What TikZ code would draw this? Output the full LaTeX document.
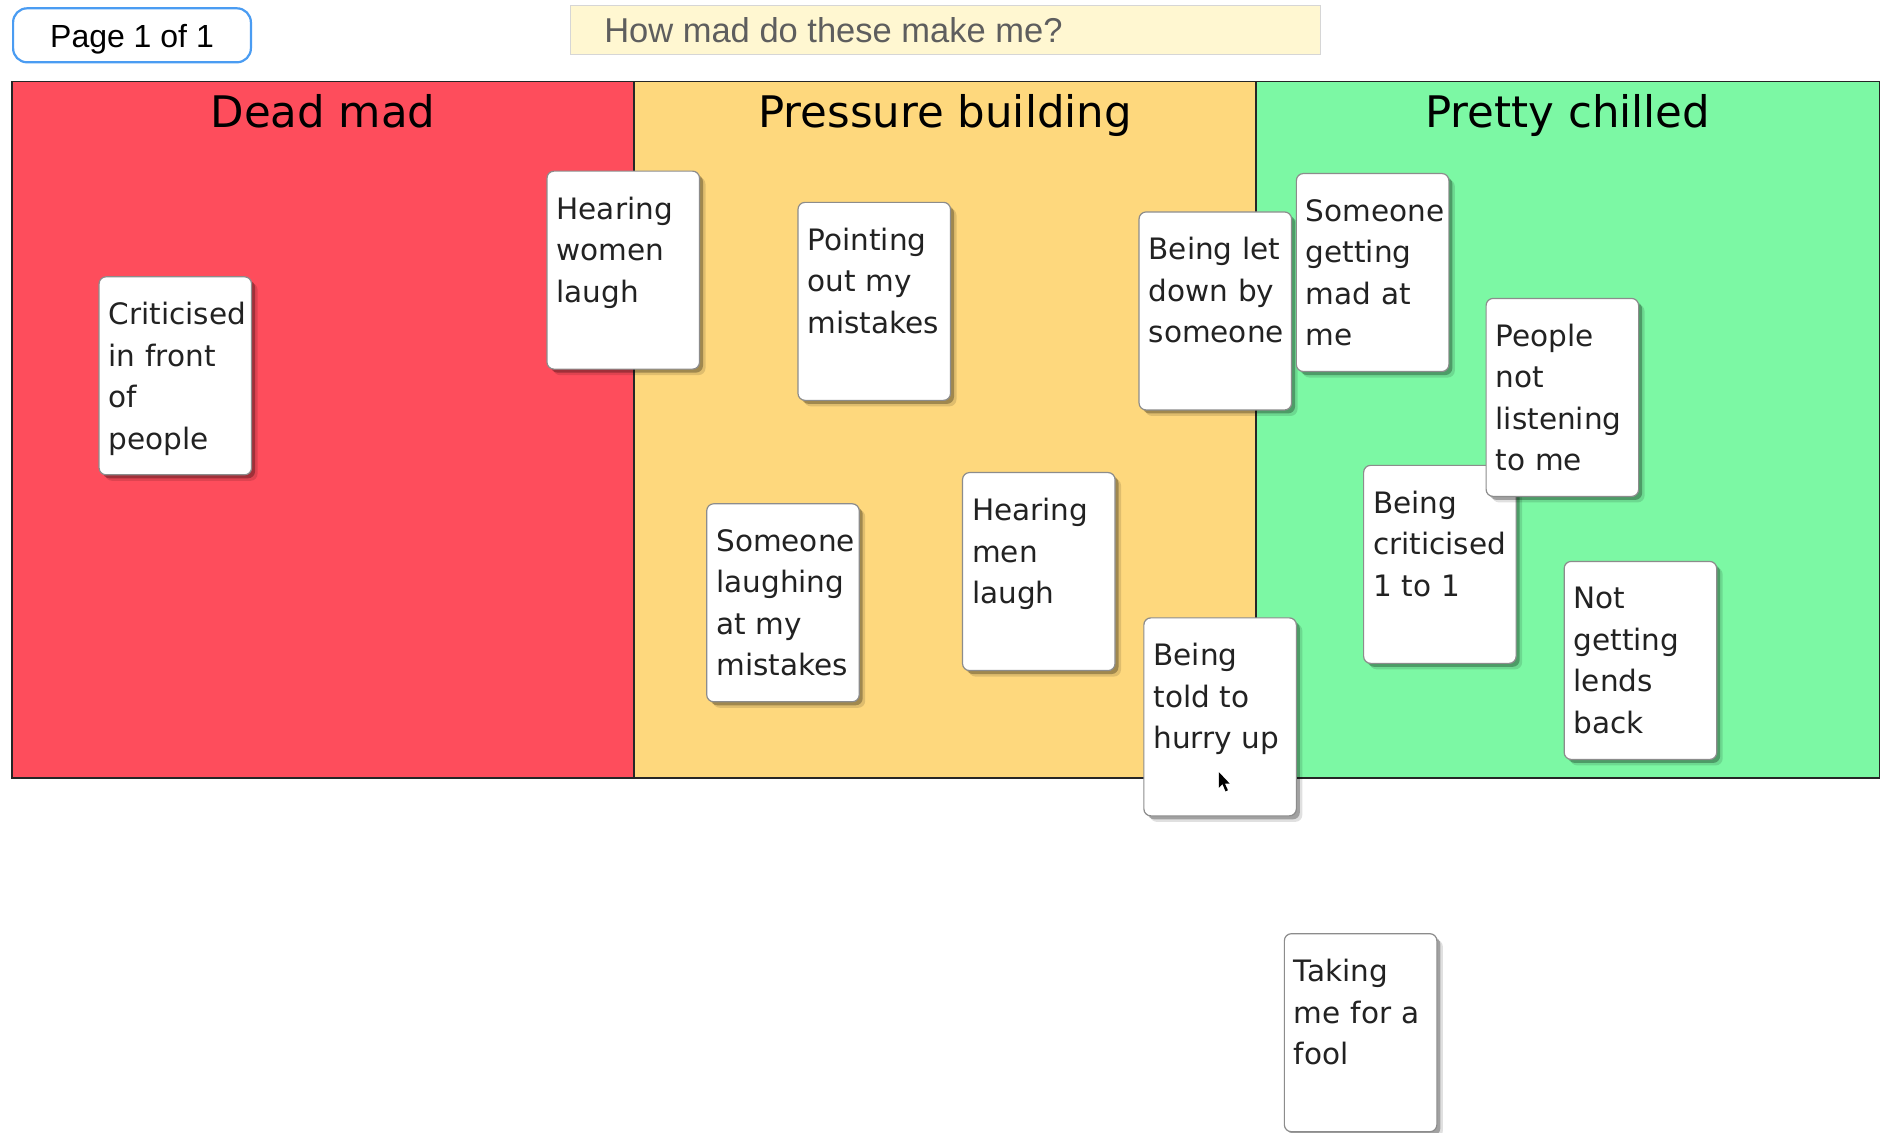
\documentclass[tikz,border=0pt]{standalone}
\usepackage{fontspec}
\setmainfont{DejaVu Sans}
\newfontfamily\libsans{Liberation Sans}
\usetikzlibrary{shadows}
\definecolor{deadred}{HTML}{FE4D5C}
\definecolor{pressure}{HTML}{FED87D}
\definecolor{chill}{HTML}{7CF8A4}
\definecolor{pageblue}{HTML}{4A9CF2}
\definecolor{titlefill}{HTML}{FFF7D1}
\definecolor{titleline}{HTML}{D6D6D6}
\definecolor{cardline}{HTML}{8C8C8C}
\definecolor{cardtext}{HTML}{222222}
\definecolor{titletext}{HTML}{5E5E5E}
\newcommand\mycard[4]{%
  \node[cardbox] (#1) at (#2,#3) {};
  \node[cardtxt] (#1t) at ([xshift=10pt,yshift=-26pt]#1.north west) {#4};
}
\begin{document}
\begin{tikzpicture}[x=1.2009pt,y=-1.2009pt,
  cardbox/.style={draw=cardline, line width=1.2pt, fill=white, rounded corners=7pt,
    minimum width=152.5pt, minimum height=198pt, inner sep=0pt, anchor=north west,
    drop shadow={shadow xshift=6pt, shadow yshift=-6pt, opacity=0.12, fill=black},
    drop shadow={shadow xshift=3.5pt, shadow yshift=-3.5pt, opacity=0.28, fill=black}},
  cardtxt/.style={anchor=north west, inner sep=0pt, text width=180pt, align=left,
    font=\fontsize{29.5}{41.5}\selectfont, text=cardtext},
  colhead/.style={anchor=base, inner sep=0pt, font=\fontsize{43.5}{50}\selectfont, text=black},
  boardline/.style={draw=black!85, line width=1.6pt}
]
\useasboundingbox (0,0) rectangle (1568,943);
\fill[white] (0,0) rectangle (1568,943);
% top boxes
\node[draw=pageblue, line width=2.2pt, fill=white, rounded corners=14pt, anchor=north west,
  minimum width=237.8pt, minimum height=54pt, inner sep=0pt] (page) at (10,6) {};
\node[anchor=base, inner sep=0pt, font=\libsans\fontsize{32}{36}\selectfont] (pagetxt)
  at ([yshift=-12pt]page.center) {Page 1 of 1};
\node[draw=titleline, line width=1pt, fill=titlefill, anchor=north west,
  minimum width=749.4pt, minimum height=49.2pt, inner sep=0pt] (titlebox) at (475,4) {};
\node[anchor=base west, inner sep=0pt, text=titletext,
  font=\libsans\fontsize{34.5}{40}\selectfont] (titletxt) at (503,35) {How mad do these make me?};
% board
\fill[deadred] (10,68) rectangle (528,648);
\fill[pressure] (528,68) rectangle (1046,648);
\fill[chill] (1046,68) rectangle (1565,648);
\draw[boardline] (10,68) rectangle (1565,648);
\draw[boardline] (528,68) -- (528,648);
\draw[boardline] (1046,68) -- (1046,648);
\node[colhead] (h1) at (269,106) {Dead mad};
\node[colhead] (h2) at (787,106) {Pressure building};
\node[colhead] (h3) at (1305.5,106) {Pretty chilled};
% cards
\mycard{c1}{82}{230}{Criticised\\in front\\of\\people}
\mycard{c2}{455}{142}{Hearing\\women\\laugh}
\mycard{c3}{664}{168}{Pointing\\out my\\mistakes}
\mycard{c4}{948}{176}{Being let\\down by\\someone}
\mycard{c5}{1079}{144}{Someone\\getting\\mad at\\me}
\mycard{c7}{1135}{387}{Being\\criticised\\1 to 1}
\mycard{c6}{1237}{248}{People\\not\\listening\\to me}
\mycard{c8}{588}{419}{Someone\\laughing\\at my\\mistakes}
\mycard{c9}{801}{393}{Hearing\\men\\laugh}
\mycard{c10}{952}{514}{Being\\told to\\hurry up}
\mycard{c11}{1302}{467}{Not\\getting\\lends\\back}
\mycard{c12}{1069}{777}{Taking\\me for a\\fool}
% mouse cursor
\fill[black] (1015,643) -- (1015,656) -- (1018,653) -- (1020.5,659) -- (1022.5,658) -- (1020,652.5) -- (1024,652.5) -- cycle;
\end{tikzpicture}
\end{document}
